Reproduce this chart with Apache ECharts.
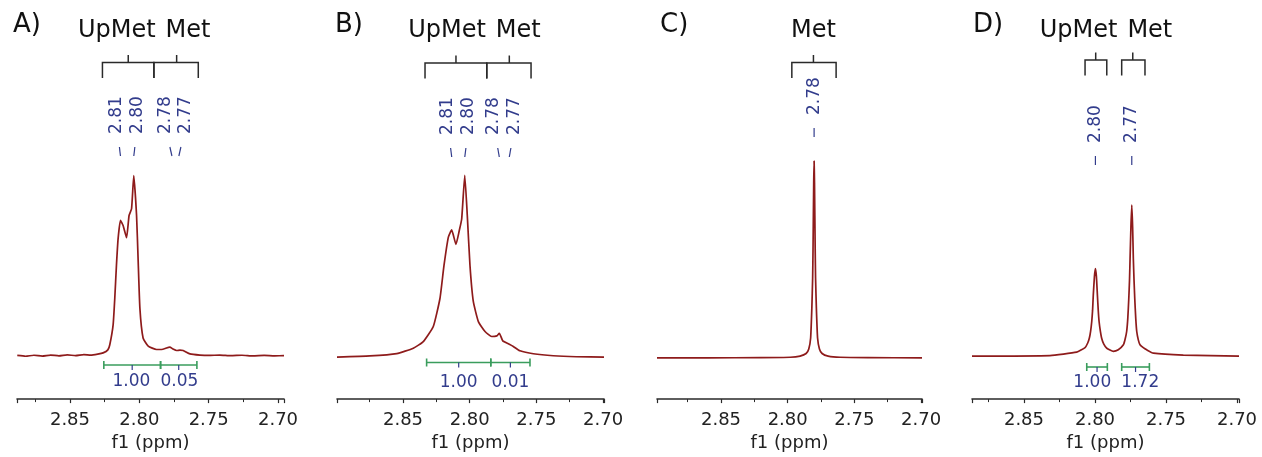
<!DOCTYPE html>
<html>
<head>
<meta charset="utf-8">
<script src="https://cdn.jsdelivr.net/npm/echarts/dist/echarts.min.js"></script>
<style>
  html, body { margin: 0; padding: 0; background: #fff; }
  #chart { width: 1262px; height: 457px; }
</style>
</head>
<body>
<div id="chart"></div>
<script>
// spectra, [ppm, intensity]
const specA = [[2.888,0.2],[2.882,-0.2],[2.876,0.3],[2.870,-0.1],[2.864,0.4],[2.858,0],[2.852,0.5],[2.846,0.1],[2.840,0.6],[2.835,0.4],[2.830,0.9],[2.8261,1.5],[2.8227,3],[2.8213,5.6],[2.8189,15.6],[2.8177,29],[2.8165,45.6],[2.8153,59],[2.8136,68.2],[2.8117,65.6],[2.8092,59.4],[2.8074,70.6],[2.8056,74],[2.8040,90.7],[2.8020,70.6],[2.8009,49],[2.7996,24],[2.7973,9],[2.7936,4.9],[2.7876,3.2],[2.7840,3.2],[2.7780,4.4],[2.7758,3.5],[2.7731,2.7],[2.7707,2.9],[2.7684,2.7],[2.7635,1],[2.7563,0.4],[2.750,0.2],[2.742,0.4],[2.734,0.1],[2.726,0.3],[2.718,0],[2.710,0.2],[2.7025,0],[2.6957,0.1]];
const specB = [[2.8995,0],[2.8748,0.6],[2.8547,1.8],[2.8423,4.5],[2.8348,7.8],[2.8273,15.4],[2.8223,29.5],[2.8193,46],[2.8160,60.4],[2.8135,64],[2.8103,56.7],[2.8078,63.7],[2.8060,69.5],[2.8037,91.5],[2.8018,71.2],[2.7998,46.2],[2.7973,28],[2.7935,17.9],[2.7885,12.9],[2.7835,10.4],[2.7797,10.7],[2.7778,12],[2.7752,8.2],[2.7703,6.5],[2.7673,5.4],[2.7623,3.2],[2.7523,1.7],[2.7373,0.7],[2.720,0.2],[2.6993,0]];
const specC = [[2.898,0],[2.860,0],[2.820,0.1],[2.798,0.3],[2.7907,0.9],[2.7862,2.2],[2.7842,4.5],[2.7828,10],[2.7819,25],[2.7813,40],[2.7810,55],[2.7805,88],[2.7802,99],[2.7799,88],[2.7794,55],[2.7791,40],[2.7785,25],[2.7776,10],[2.7762,4.5],[2.7742,2.2],[2.7697,0.9],[2.7607,0.3],[2.740,0.1],[2.6993,0]];
const specD = [[2.8866,0],[2.8317,0.3],[2.8129,2],[2.8070,4.3],[2.8052,6.5],[2.8040,9],[2.8031,12.5],[2.8023,17.3],[2.8017,23],[2.8012,30.7],[2.8004,40],[2.7997,44],[2.7990,40],[2.7983,30.7],[2.7977,23],[2.7971,17.3],[2.7962,12.5],[2.7953,9],[2.7938,6],[2.7917,4],[2.7871,2.4],[2.7836,3.2],[2.7800,5.7],[2.7788,8.5],[2.7777,12.4],[2.7769,19],[2.7762,29],[2.7757,38],[2.7753,49],[2.7747,65],[2.7741,76],[2.7735,65],[2.7730,49],[2.7725,38],[2.7720,29],[2.7713,19],[2.7706,12.4],[2.7695,8.2],[2.7683,5.7],[2.7660,4.3],[2.7636,3.2],[2.7589,1.5],[2.7378,0.5],[2.6986,0]];

// picked peaks (ppm)
const peaksA = [2.8136, 2.8040, 2.7765, 2.7715];
const peaksB = [2.8135, 2.8037, 2.7778, 2.7703];
const peaksC = [2.7802];
const peaksD = [2.7997, 2.7741];

// multiplets: [from, to, centre, name]
const multA = [[2.8266, 2.7895, 2.8080, 'UpMet'], [2.7895, 2.7575, 2.7731, 'Met']];
const multB = [[2.8335, 2.7872, 2.8103, 'UpMet'], [2.7872, 2.7540, 2.7703, 'Met']];
const multC = [[2.7969, 2.7637, 2.7807, 'Met']];
const multD = [[2.8070, 2.7917, 2.7995, 'UpMet'], [2.7812, 2.7648, 2.7734, 'Met']];

// integrals: [from, to, value]
const intA = [[2.8256, 2.7847, 1.00], [2.7847, 2.7585, 0.05]];
const intB = [[2.8323, 2.7842, 1.00], [2.7842, 2.7548, 0.01]];
const intC = [];
const intD = [[2.8058, 2.7913, 1.00], [2.7812, 2.7617, 1.72]];

const panelNames = ['A)', 'B)', 'C)', 'D)'];
const tickLabels = ['2.85', '2.80', '2.75', '2.70'];

const FONT = '"DejaVu Sans"';
const RED = '#8e1b1b';
const BLUE = '#323c8c';
const GREEN = '#3a9d5d';
const INK = '#2a2a2a';

// layout of each panel
const panels = [
  { spec: specA, peaks: peaksA, mult: multA, ints: intA, left: 17, width: 267, min: 2.6957, max: 2.8882, base: 358, peakY: 156, barY: 62.5, intY: 365, intLabelY: 382, letterLeft: 13 },
  { spec: specB, peaks: peaksB, mult: multB, ints: intB, left: 337, width: 267, min: 2.6993, max: 2.8995, base: 359.3, peakY: 157, barY: 63, intY: 362.5, intLabelY: 383, letterLeft: 335 },
  { spec: specC, peaks: peaksC, mult: multC, ints: intC, left: 657, width: 265, min: 2.6993, max: 2.898, base: 360, peakY: 137, barY: 62.5, intY: 365, intLabelY: 383, letterLeft: 660 },
  { spec: specD, peaks: peaksD, mult: multD, ints: intD, left: 972, width: 267, min: 2.6986, max: 2.8866, base: 358.3, peakY: 165, barY: 60, intY: 367, intLabelY: 383, letterLeft: 973 }
];

const AXIS_Y = 401.5;
const PX_PER_UNIT = 2;

// push sorted positions apart so neighbours are at least gap(i) apart
function spread(xs, gapFn) {
  const out = xs.slice();
  for (let k = 0; k < 60; k++) {
    for (let i = 1; i < out.length; i++) {
      const need = gapFn(i);
      const d = out[i] - out[i - 1];
      if (d < need) {
        const m = (need - d) / 2;
        out[i - 1] -= m;
        out[i] += m;
      }
    }
  }
  return out;
}

const chart = echarts.init(document.getElementById('chart'));

const grids = [], xAxes = [], yAxes = [], series = [], titles = [];

panels.forEach(function (p, i) {
  grids.push({ left: p.left, width: p.width, top: 0, bottom: 457 - AXIS_Y });
  const yMin = -(AXIS_Y - p.base) / PX_PER_UNIT;
  yAxes.push({ type: 'value', gridIndex: i, min: yMin, max: yMin + AXIS_Y / PX_PER_UNIT, show: false });
  xAxes.push({
    type: 'value', gridIndex: i, inverse: true, min: p.min, max: p.max, splitNumber: 4,
    axisLine: { show: true, onZero: false, lineStyle: { color: INK, width: 1.6 } },
    axisTick: { show: true, length: 4, lineStyle: { color: INK, width: 1.2 } },
    minorTick: { show: true, splitNumber: 2, length: 3, lineStyle: { color: INK, width: 1 } },
    splitLine: { show: false },
    minorSplitLine: { show: false },
    axisLabel: {
      margin: 12, fontSize: 18, fontFamily: FONT, color: '#222',
      formatter: function (v) {
        const s = v.toFixed(2);
        return tickLabels.indexOf(s) >= 0 && Math.abs(v - parseFloat(s)) < 1e-6 ? s : '';
      }
    },
    name: 'f1 (ppm)', nameLocation: 'middle', nameGap: 31,
    nameTextStyle: { fontSize: 18, fontFamily: FONT, color: '#222' }
  });
  titles.push({
    text: panelNames[i], left: p.letterLeft, top: 12, padding: 0,
    textStyle: { fontSize: 26, fontWeight: 'normal', fontFamily: FONT, color: '#111' }
  });

  series.push({
    type: 'line', xAxisIndex: i, yAxisIndex: i, data: p.spec, showSymbol: false,
    smooth: 0.15, silent: true, lineStyle: { color: RED, width: 1.7 }
  });

  // peak labels
  series.push({
    type: 'custom', xAxisIndex: i, yAxisIndex: i, clip: false, silent: true,
    data: p.peaks.map(function (v) { return [v, 0]; }),
    renderItem: function (params, api) {
      const idx = params.dataIndex;
      const xs = p.peaks.map(function (v) { return api.coord([v, 0])[0]; });
      const tx = spread(xs, function () { return 20.5; })[idx];
      const px = xs[idx];
      const y0 = p.peakY;
      return {
        type: 'group', children: [
          { type: 'line', shape: { x1: px, y1: y0, x2: px + (tx - px) * 0.3, y2: y0 - 9 }, style: { stroke: BLUE, lineWidth: 1.2 } },
          { type: 'text', x: tx, y: y0 - 22, rotation: Math.PI / 2,
            style: { text: p.peaks[idx].toFixed(2), x: 0, y: 0, align: 'left', verticalAlign: 'middle', fill: BLUE, font: '17px ' + FONT } }
        ]
      };
    }
  });

  // multiplet brackets
  series.push({
    type: 'custom', xAxisIndex: i, yAxisIndex: i, clip: false, silent: true,
    data: p.mult.map(function (m) { return [m[2], 0]; }),
    renderItem: function (params, api) {
      const idx = params.dataIndex;
      const m = p.mult[idx];
      const cx = function (v) { return api.coord([v, 0])[0]; };
      const x1 = cx(m[0]), x2 = cx(m[1]), xc = cx(m[2]);
      const centres = p.mult.map(function (q) { return cx(q[2]); });
      const widths = p.mult.map(function (q) { return q[3].length * 14.8; });
      const lx = spread(centres, function (k) { return (widths[k - 1] + widths[k]) / 2 + 12; })[idx];
      const y = p.barY;
      return {
        type: 'group', children: [
          { type: 'polyline', shape: { points: [[x1, y + 15.5], [x1, y], [x2, y], [x2, y + 15.5]] }, style: { stroke: INK, lineWidth: 1.5, fill: 'none' } },
          { type: 'line', shape: { x1: xc, y1: y, x2: xc, y2: y - 7.5 }, style: { stroke: INK, lineWidth: 1.5 } },
          { type: 'text', x: lx, y: 31, style: { text: m[3], x: 0, y: 0, align: 'center', verticalAlign: 'middle', fill: '#111', font: '24px ' + FONT } }
        ]
      };
    }
  });

  // integrals
  series.push({
    type: 'custom', xAxisIndex: i, yAxisIndex: i, clip: false, silent: true,
    data: p.ints.map(function (r) { return [(r[0] + r[1]) / 2, 0]; }),
    renderItem: function (params, api) {
      const idx = params.dataIndex;
      const r = p.ints[idx];
      const cx = function (v) { return api.coord([v, 0])[0]; };
      const x1 = cx(r[0]), x2 = cx(r[1]);
      const mids = p.ints.map(function (q) { return cx((q[0] + q[1]) / 2); });
      const lx = spread(mids, function () { return 48; })[idx];
      const y = p.intY;
      return {
        type: 'group', children: [
          { type: 'line', shape: { x1: x1, y1: y, x2: x2, y2: y }, style: { stroke: GREEN, lineWidth: 1.6 } },
          { type: 'line', shape: { x1: x1, y1: y - 4, x2: x1, y2: y + 4 }, style: { stroke: GREEN, lineWidth: 1.6 } },
          { type: 'line', shape: { x1: x2, y1: y - 4, x2: x2, y2: y + 4 }, style: { stroke: GREEN, lineWidth: 1.6 } },
          { type: 'line', shape: { x1: mids[idx], y1: y, x2: mids[idx], y2: y + 5 }, style: { stroke: BLUE, lineWidth: 1.2 } },
          { type: 'text', x: lx, y: p.intLabelY, style: { text: r[2].toFixed(2), x: 0, y: 0, align: 'center', verticalAlign: 'middle', fill: BLUE, font: '17px ' + FONT } }
        ]
      };
    }
  });
});

chart.setOption({
  animation: false,
  backgroundColor: '#fff',
  textStyle: { fontFamily: FONT },
  title: titles,
  grid: grids,
  xAxis: xAxes,
  yAxis: yAxes,
  series: series
});
</script>
</body>
</html>
